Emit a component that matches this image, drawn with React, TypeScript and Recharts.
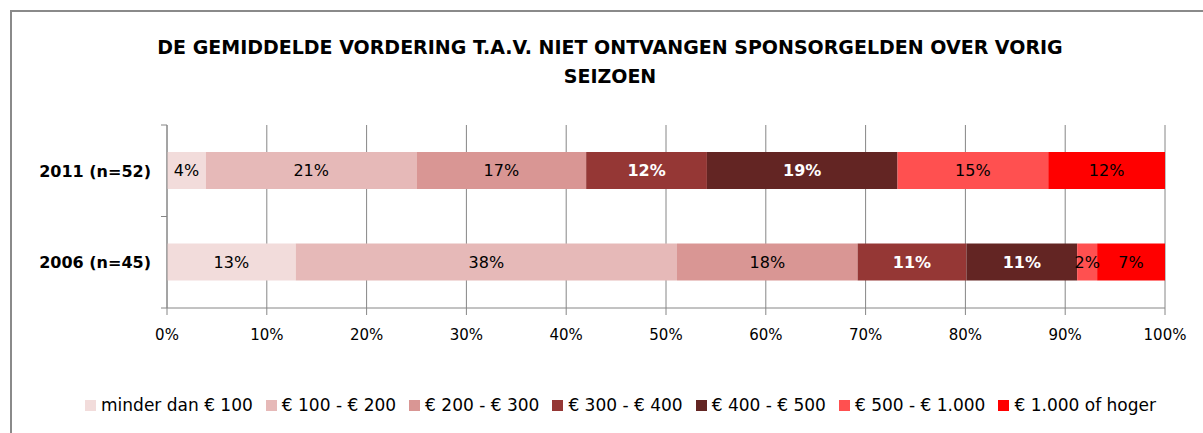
import React from "react";
import { BarChart, Bar, XAxis, YAxis, CartesianGrid, Legend, LabelList } from "recharts";

// categories (rows) and the seven answer buckets
const categories = ["2011 (n=52)", "2006 (n=45)"];

const seriesNames = [
  "minder dan € 100",
  "€ 100 - € 200",
  "€ 200 - € 300",
  "€ 300 - € 400",
  "€ 400 - € 500",
  "€ 500 - € 1.000",
  "€ 1.000 of hoger",
];

// share per bucket, per category (percent)
const values2011 = [3.9, 21.1, 17.0, 12.1, 19.1, 15.1, 11.7];
const values2006 = [12.9, 38.2, 18.1, 10.9, 11.1, 2.0, 6.8];

const xTicks = [0, 10, 20, 30, 40, 50, 60, 70, 80, 90, 100];

const colors = ["#f2dcdb", "#e6b9b8", "#d99694", "#953735", "#632523", "#ff5050", "#ff0000"];
const labelColors = ["#000", "#000", "#000", "#fff", "#fff", "#000", "#000"];

const rows = [values2011, values2006];
const chartData = categories.map((name, i) => {
  const row: Record<string, string | number> = { name };
  seriesNames.forEach((_, s) => {
    row["s" + s] = rows[i][s];
  });
  return row;
});

const FONT = "'DejaVu Sans', Verdana, sans-serif";
const GRID = "#868686";
const PLOT_LEFT = 167;
const PLOT_TOP = 125;
const PLOT_BOTTOM = 308;
const HALF_BAND = (PLOT_BOTTOM - PLOT_TOP) / categories.length / 2;

function CategoryTick(props: any) {
  const { x, y, payload } = props;
  return (
    <g>
      <line x1={PLOT_LEFT - 6} x2={PLOT_LEFT} y1={y - HALF_BAND} y2={y - HALF_BAND} stroke={GRID} />
      <line x1={PLOT_LEFT - 6} x2={PLOT_LEFT} y1={y + HALF_BAND} y2={y + HALF_BAND} stroke={GRID} />
      <text x={x} y={y} dy={6} textAnchor="end" fontSize={16} fontWeight="bold" fill="#000" fontFamily={FONT}>
        {payload.value}
      </text>
    </g>
  );
}

function renderLegend(props: any) {
  // keep the series order of the chart
  const payload = [...props.payload].sort(
    (a: any, b: any) => seriesNames.indexOf(a.value) - seriesNames.indexOf(b.value)
  );
  return (
    <div style={{ display: "flex", justifyContent: "center", fontFamily: FONT, fontSize: 17, color: "#000" }}>
      {payload.map((entry: any) => (
        <div key={entry.value} style={{ display: "flex", alignItems: "center", marginRight: 13 }}>
          <span style={{ display: "inline-block", width: 11, height: 11, background: entry.color, marginRight: 5 }} />
          <span>{entry.value}</span>
        </div>
      ))}
    </div>
  );
}

export default function App() {
  return (
    <div style={{ position: "absolute", left: 0, top: 0, width: 1203, height: 433, overflow: "hidden", background: "#fff" }}>
      {/* outer frame, only top and left edges are in view */}
      <div
        style={{
          position: "absolute",
          left: 10,
          top: 10,
          width: 1400,
          height: 600,
          borderTop: "2px solid #8a8a8a",
          borderLeft: "2px solid #8a8a8a",
        }}
      />
      <div
        style={{
          position: "absolute",
          left: 0,
          top: 33,
          width: 1220,
          textAlign: "center",
          fontFamily: FONT,
          fontWeight: "bold",
          fontSize: 19,
          lineHeight: "29px",
          color: "#000",
        }}
      >
        DE GEMIDDELDE VORDERING T.A.V. NIET ONTVANGEN SPONSORGELDEN OVER VORIG
        <br />
        SEIZOEN
      </div>
      <div style={{ position: "absolute", left: 0, top: 0 }}>
        <BarChart
          width={1203}
          height={433}
          data={chartData}
          layout="vertical"
          margin={{ top: PLOT_TOP, right: 38, bottom: 433 - PLOT_BOTTOM - 40, left: PLOT_LEFT - 150 }}
        >
          <CartesianGrid horizontal={false} stroke={GRID} />
          <XAxis
            type="number"
            domain={[0, 100]}
            ticks={xTicks}
            tickFormatter={(v) => v + "%"}
            axisLine={{ stroke: GRID }}
            tickLine={{ stroke: GRID }}
            tickSize={7}
            tickMargin={14}
            height={40}
            tick={{ fill: "#000", fontSize: 15, fontFamily: FONT }}
            interval={0}
          />
          <YAxis
            type="category"
            dataKey="name"
            width={150}
            axisLine={{ stroke: GRID }}
            tickLine={false}
            tickMargin={10}
            tick={<CategoryTick />}
          />
          <Legend
            layout="horizontal"
            verticalAlign="middle"
            align="center"
            content={renderLegend}
            wrapperStyle={{ top: 395, left: 0, width: 1254 }}
          />
          {seriesNames.map((name, s) => (
            <Bar key={name} dataKey={"s" + s} name={name} stackId="a" fill={colors[s]} barSize={37} isAnimationActive={false}>
              <LabelList
                dataKey={"s" + s}
                position="center"
                formatter={(v: any) => Math.round(Number(v)) + "%"}
                fill={labelColors[s]}
                fontSize={16}
                fontFamily={FONT}
                fontWeight={labelColors[s] === "#fff" ? "bold" : "normal"}
              />
            </Bar>
          ))}
        </BarChart>
      </div>
    </div>
  );
}
